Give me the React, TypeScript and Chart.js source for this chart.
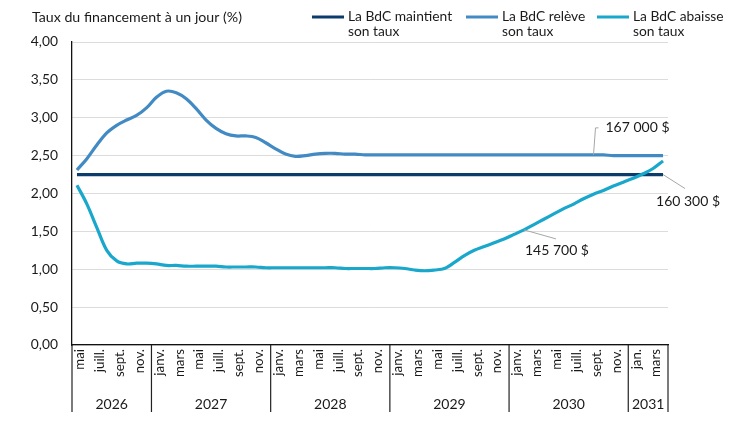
import React, { useEffect, useRef } from "react";
import Chart from "chart.js/auto";

// axis categories (one per month, mai 2026 .. avr. 2031)
const months = [
  "mai", "juin", "juill.", "août", "sept.", "oct.", "nov.", "déc.",
  "janv.", "févr.", "mars", "avr.", "mai", "juin", "juill.", "août", "sept.", "oct.", "nov.", "déc.",
  "janv.", "févr.", "mars", "avr.", "mai", "juin", "juill.", "août", "sept.", "oct.", "nov.", "déc.",
  "janv.", "févr.", "mars", "avr.", "mai", "juin", "juill.", "août", "sept.", "oct.", "nov.", "déc.",
  "janv.", "févr.", "mars", "avr.", "mai", "juin", "juill.", "août", "sept.", "oct.", "nov.", "déc.",
  "jan.", "févr.", "mars", "avr.",
];
const years = ["2026", "2027", "2028", "2029", "2030", "2031"];
const monthsPerYear = [8, 12, 12, 12, 12, 4];

const yTicks = [0, 0.5, 1, 1.5, 2, 2.5, 3, 3.5, 4];

const maintient = [
  2.25, 2.25, 2.25, 2.25, 2.25, 2.25, 2.25, 2.25, 2.25, 2.25,
  2.25, 2.25, 2.25, 2.25, 2.25, 2.25, 2.25, 2.25, 2.25, 2.25,
  2.25, 2.25, 2.25, 2.25, 2.25, 2.25, 2.25, 2.25, 2.25, 2.25,
  2.25, 2.25, 2.25, 2.25, 2.25, 2.25, 2.25, 2.25, 2.25, 2.25,
  2.25, 2.25, 2.25, 2.25, 2.25, 2.25, 2.25, 2.25, 2.25, 2.25,
  2.25, 2.25, 2.25, 2.25, 2.25, 2.25, 2.25, 2.25, 2.25, 2.25,
];
const releve = [
  2.31, 2.46, 2.64, 2.80, 2.90, 2.97, 3.03, 3.13, 3.27, 3.35,
  3.33, 3.25, 3.12, 2.97, 2.86, 2.79, 2.76, 2.76, 2.74, 2.67,
  2.59, 2.52, 2.49, 2.50, 2.52, 2.53, 2.53, 2.52, 2.52, 2.51,
  2.51, 2.51, 2.51, 2.51, 2.51, 2.51, 2.51, 2.51, 2.51, 2.51,
  2.51, 2.51, 2.51, 2.51, 2.51, 2.51, 2.51, 2.51, 2.51, 2.51,
  2.51, 2.51, 2.51, 2.51, 2.50, 2.50, 2.50, 2.50, 2.50, 2.50,
];
const abaisse = [
  2.11, 1.86, 1.55, 1.25, 1.11, 1.07, 1.08, 1.08, 1.07, 1.05,
  1.05, 1.04, 1.04, 1.04, 1.04, 1.03, 1.03, 1.03, 1.03, 1.02,
  1.02, 1.02, 1.02, 1.02, 1.02, 1.02, 1.02, 1.01, 1.01, 1.01,
  1.01, 1.02, 1.02, 1.01, 0.99, 0.98, 0.99, 1.01, 1.09, 1.18,
  1.25, 1.30, 1.35, 1.40, 1.46, 1.52, 1.59, 1.66, 1.73, 1.80,
  1.86, 1.93, 1.99, 2.04, 2.10, 2.15, 2.20, 2.26, 2.33, 2.43,
];

const seriesNames = ["La BdC maintient son taux", "La BdC relève son taux", "La BdC abaisse son taux"];
const legendLines = [
  ["La BdC maintient", "son taux"],
  ["La BdC relève", "son taux"],
  ["La BdC abaisse", "son taux"],
];
const axisTitle = "Taux du financement à un jour (%)";

// callouts: text, series, month index
const calloutTexts = ["167 000 $", "160 300 $", "145 700 $"];
const calloutSeries = [1, 0, 2];
const calloutIndex = [52, 59, 45];

const colors = ["#0b3c6c", "#428ac4", "#19a7cc"];
const FONT = "Lato";
const INK = "#1a1a1a";

const overlay = {
  id: "overlay",
  afterDraw(chart) {
    const { ctx, chartArea } = chart;
    const x = chart.scales.x;
    const y = chart.scales.y;
    ctx.save();
    ctx.fillStyle = INK;
    ctx.textBaseline = "middle";
    ctx.textAlign = "left";
    ctx.font = `14.2px ${FONT}`;
    // title lines up with the left edge of the y tick labels
    ctx.fillText(axisTitle, chartArea.left - 40, 17);

    // legend
    const legendX = [312, 466, 597];
    ctx.font = `13.8px ${FONT}`;
    chart.data.datasets.forEach((ds, k) => {
      const lx = legendX[k];
      ctx.strokeStyle = ds.borderColor;
      ctx.lineWidth = 3;
      ctx.beginPath();
      ctx.moveTo(lx, 17);
      ctx.lineTo(lx + 32, 17);
      ctx.stroke();
      legendLines[k].forEach((t, j) => ctx.fillText(t, lx + 36, 17 + j * 15));
    });

    // month labels, rotated to read bottom-to-top
    ctx.font = `13.3px ${FONT}`;
    months.forEach((m, i) => {
      if (i % 2) return;
      const px = x.getPixelForValue(i);
      ctx.save();
      ctx.translate(px + 3, chartArea.bottom + 4);
      ctx.rotate(-Math.PI / 2);
      ctx.textAlign = "right";
      ctx.textBaseline = "middle";
      ctx.fillText(m, 0, 0);
      ctx.restore();
    });

    // year separators and labels
    const bounds = [chartArea.left];
    let s = 0;
    monthsPerYear.forEach((n, k) => {
      s += n;
      if (k === monthsPerYear.length - 1) bounds.push(chartArea.right);
      else bounds.push((x.getPixelForValue(s - 1) + x.getPixelForValue(s)) / 2);
    });
    ctx.strokeStyle = "#222";
    ctx.lineWidth = 1.2;
    bounds.forEach((b) => {
      ctx.beginPath();
      ctx.moveTo(b, chartArea.bottom);
      ctx.lineTo(b, 412);
      ctx.stroke();
    });
    ctx.font = `14px ${FONT}`;
    ctx.textAlign = "center";
    years.forEach((yr, k) => ctx.fillText(yr, (bounds[k] + bounds[k + 1]) / 2, 404));

    // callouts
    const leader = [
      [[0, 0], [2, -27], [5, -27]],
      [[0, 0], [22, 14]],
      [[0, 0], [32, 9]],
    ];
    const textOff = [[12, -27, "left"], [25, 27, "center"], [33, 21, "center"]];
    ctx.strokeStyle = "#a6a6a6";
    ctx.lineWidth = 1;
    ctx.font = `14px ${FONT}`;
    calloutTexts.forEach((t, k) => {
      const ds = chart.data.datasets[calloutSeries[k]];
      const ax = x.getPixelForValue(calloutIndex[k]);
      const ay = y.getPixelForValue(ds.data[calloutIndex[k]]);
      ctx.beginPath();
      leader[k].forEach(([dx, dy], j) => (j ? ctx.lineTo(ax + dx, ay + dy) : ctx.moveTo(ax + dx, ay + dy)));
      ctx.stroke();
      ctx.textAlign = textOff[k][2];
      ctx.fillText(t, ax + textOff[k][0], ay + textOff[k][1]);
    });
    ctx.restore();
  },
};

const App = () => {
  const canvasRef = useRef(null);
  const chartRef = useRef(null);

  useEffect(() => {
    document.body.style.margin = "0";
    if (chartRef.current) chartRef.current.destroy();

    chartRef.current = new Chart(canvasRef.current.getContext("2d"), {
      type: "line",
      data: {
        labels: months,
        datasets: [maintient, releve, abaisse].map((d, k) => ({
          label: seriesNames[k],
          data: d,
          borderColor: colors[k],
          backgroundColor: colors[k],
          borderWidth: 3.2,
          pointRadius: 0,
          tension: 0.35,
          order: 2 - k,
        })),
      },
      options: {
        responsive: true,
        maintainAspectRatio: false,
        animation: false,
        layout: { padding: { top: 42, right: 82, left: 0, bottom: 0 } },
        plugins: { legend: { display: false }, tooltip: { enabled: false } },
        scales: {
          x: {
            offset: true,
            grid: { display: false },
            border: { color: "#111", width: 1.3 },
            ticks: { display: false },
            afterFit: (sc) => {
              sc.height = 77;
            },
          },
          y: {
            min: 0,
            max: 4,
            afterBuildTicks: (sc) => {
              sc.ticks = yTicks.map((v) => ({ value: v }));
            },
            grid: { color: "#dcdcdc", lineWidth: 1, drawTicks: false },
            border: { color: "#111", width: 1.3 },
            ticks: {
              padding: 14,
              color: INK,
              font: { family: FONT, size: 13.8 },
              callback: (v) => Number(v).toFixed(2).replace(".", ","),
            },
            afterFit: (sc) => {
              sc.width = 72;
            },
          },
        },
      },
      plugins: [overlay],
    });

    return () => {
      if (chartRef.current) {
        chartRef.current.destroy();
        chartRef.current = null;
      }
    };
  }, []);

  return (
    <div style={{ width: "750px", height: "422px", position: "relative", background: "#fff" }}>
      <canvas ref={canvasRef} />
    </div>
  );
};

export default App;
